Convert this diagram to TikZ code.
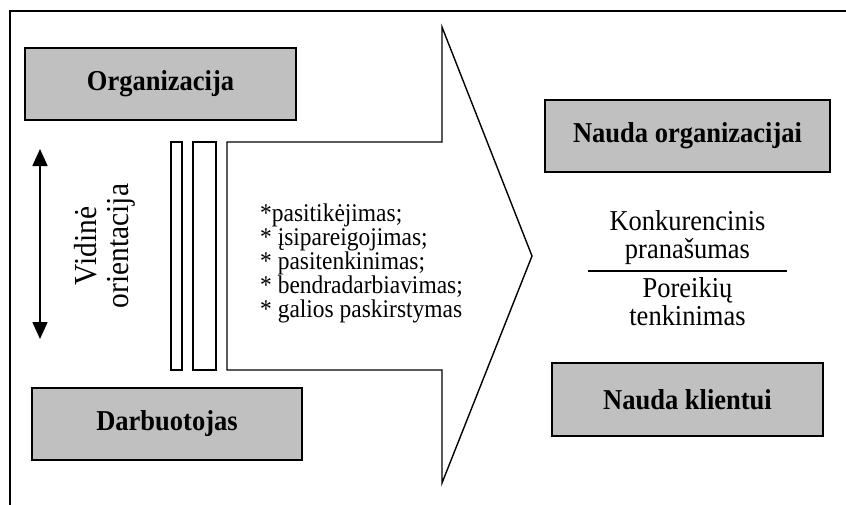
\documentclass[tikz,border=0pt]{standalone}
\usepackage{fontspec}
\setmainfont[FakeStretch=0.92]{Liberation Serif}
\usetikzlibrary{arrows.meta}
\definecolor{boxgray}{HTML}{C0C0C0}
\tikzset{
  graybox/.style={draw, fill=boxgray, line width=1.6pt, inner sep=0pt,
    font=\fontsize{28.8}{30}\selectfont\bfseries},
  slat/.style={draw, line width=1.4pt},
  plain/.style={inner sep=0pt, align=center, font=\fontsize{28.8}{28.5}\selectfont},
}
\begin{document}
\begin{tikzpicture}[x=1pt, y=-1pt]
  \path[clip, use as bounding box] (0,0) rectangle (846,504);
  \fill[white] (0,0) rectangle (846,504);
  % outer frame (runs off the right and bottom edges)
  \draw[line width=2pt] (10,530) -- (10,11) -- (870,11);

  % grey boxes
  \node[graybox, minimum width=271pt, minimum height=72pt] (org) at (160.5,84) {Organizacija};
  \node[graybox, minimum width=270pt, minimum height=72pt] (darb) at (167,424) {Darbuotojas};
  \node[graybox, minimum width=285pt, minimum height=72pt] (nauo) at (687.5,136) {Nauda organizacijai};
  \node[graybox, minimum width=271pt, minimum height=73pt] (nauk) at (687.5,399.5) {Nauda klientui};

  % two slats in front of the big arrow
  \draw[slat] (171,142) rectangle (182,370);
  \draw[slat] (193,142) rectangle (216,370);

  % big arrow
  \draw[line width=1.4pt, line join=miter]
    (227,142) -- (442,142) -- (442,27) -- (532,256) -- (442,483) -- (442,370) -- (227,370) -- cycle;

  % list inside the arrow
  \node[inner sep=0pt, anchor=north west, align=left,
        font=\fontsize{25.5}{23.8}\selectfont] (list) at (260,204)
    {*pasitikėjimas;\\
     * įsipareigojimas;\\
     * pasitenkinimas;\\
     * bendradarbiavimas;\\
     * galios paskirstymas};

  % fraction on the right
  \node[plain, anchor=south] (konk) at (687.5,265) {Konkurencinis\\pranašumas};
  \node[plain, anchor=north] (por) at (687.5,277) {Poreikių\\tenkinimas};
  \coordinate (fl) at (588,271);
  \coordinate (fr) at (787,271);
  \draw[line width=1.6pt] (fl) -- (fr);

  % vertical double arrow and its label
  \coordinate (vtop) at (40,149);
  \coordinate (vbot) at (40,339);
  \draw[line width=1.6pt, {Triangle[length=17pt,width=15pt]}-{Triangle[length=17pt,width=15pt]}] (vtop) -- (vbot);
  \node[plain, rotate=90, font=\fontsize{32}{32}\selectfont] (vid) at (105,246) {Vidinė\\orientacija};
\end{tikzpicture}
\end{document}
